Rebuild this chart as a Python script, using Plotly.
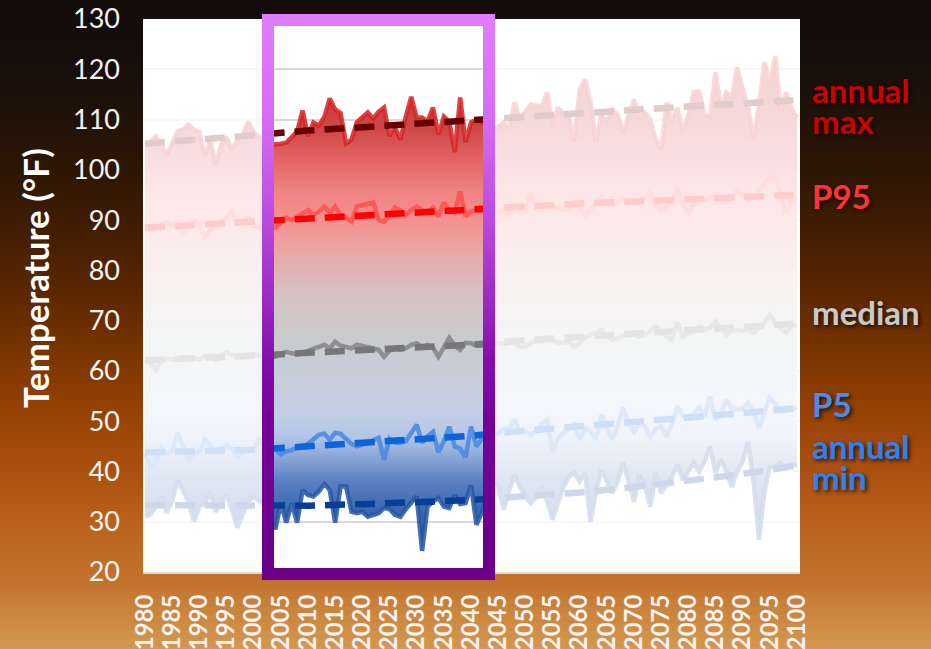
import plotly.graph_objects as go

# ---------------- data ----------------
YEARS = list(range(1980, 2101))

ANNUAL_MAX = [
    105.0, 105.5, 106.6, 105.0, 103.0, 105.5, 107.6, 108.0, 109.0, 108.0,
    107.6, 102.7, 106.0, 101.0, 105.0, 106.5, 104.0, 106.0, 107.0, 109.6,
    107.5, 106.5, 106.0, 105.0, 105.0, 105.2, 105.4, 106.5, 107.6, 111.8,
    106.7, 109.4, 108.8, 110.5, 114.2, 112.0, 111.3, 105.2, 106.0, 109.5,
    110.5, 111.4, 110.2, 111.6, 112.4, 106.7, 108.5, 106.0, 110.6, 114.5,
    110.4, 110.4, 109.6, 112.4, 107.0, 110.6, 109.6, 103.5, 114.4, 105.5,
    109.4, 110.0, 109.5, 108.5, 107.6, 108.5, 109.4, 108.4, 113.4, 110.0,
    111.5, 113.0, 112.8, 112.6, 115.4, 109.0, 112.4, 111.2, 110.4, 105.7,
    116.0, 118.0, 113.4, 105.5, 111.0, 109.6, 112.0, 111.0, 107.4, 111.0,
    114.0, 110.4, 111.4, 110.0, 106.0, 104.0, 113.4, 109.4, 112.4, 107.4,
    111.0, 115.4, 115.6, 111.0, 110.6, 119.4, 112.4, 115.4, 114.4, 120.4,
    116.0, 112.6, 106.0, 113.0, 121.4, 117.4, 122.6, 111.6, 115.4, 112.0,
    110.4,
]
P95 = [
    88.5, 88.0, 88.5, 89.0, 89.5, 89.0, 88.5, 87.5, 89.0, 90.0,
    89.0, 86.7, 88.0, 88.7, 89.5, 90.5, 91.7, 89.5, 90.0, 90.7,
    89.0, 88.5, 89.0, 89.0, 88.5, 89.5, 90.5, 90.0, 90.7, 91.5,
    92.0, 91.0, 91.7, 92.7, 91.5, 92.7, 91.0, 90.5, 89.7, 92.7,
    93.0, 93.2, 93.5, 90.0, 89.7, 91.0, 92.5, 92.0, 91.0, 92.0,
    92.7, 92.0, 91.5, 92.5, 90.7, 93.5, 92.0, 91.5, 95.7, 90.7,
    91.7, 92.0, 91.8, 92.0, 91.5, 91.5, 92.0, 91.0, 93.5, 92.0,
    92.5, 95.5, 92.5, 92.8, 93.0, 92.5, 92.5, 92.0, 92.0, 93.5,
    92.5, 90.7, 92.0, 93.5, 94.7, 93.5, 93.0, 93.5, 94.5, 93.5,
    93.5, 94.0, 94.5, 95.5, 93.0, 92.0, 92.7, 93.5, 96.5, 93.0,
    91.5, 93.0, 94.0, 94.0, 94.5, 94.7, 94.0, 93.7, 94.5, 96.0,
    95.0, 94.0, 94.5, 96.0, 97.5, 98.5, 99.0, 95.0, 91.5, 94.0,
    94.5,
]
MEDIAN = [
    62.2, 61.5, 60.2, 62.0, 62.5, 62.3, 62.5, 62.8, 62.4, 62.6,
    62.3, 62.9, 63.0, 62.2, 63.0, 63.8, 63.2, 62.8, 63.0, 63.2,
    63.4, 63.0, 62.8, 62.8, 62.8, 63.4, 63.8, 63.5, 63.3, 63.6,
    64.0, 64.2, 64.8, 65.2, 64.5, 65.8, 65.0, 64.8, 64.5, 65.2,
    65.0, 64.8, 64.6, 64.2, 62.8, 64.0, 64.5, 64.2, 64.5, 65.2,
    65.5, 64.8, 65.2, 64.6, 62.8, 64.5, 66.6, 65.0, 64.2, 65.6,
    65.5, 65.0, 65.0, 65.3, 65.2, 65.5, 65.3, 65.8, 65.5, 64.8,
    64.8, 65.5, 66.0, 65.8, 66.6, 66.2, 65.6, 65.6, 65.8, 64.8,
    65.5, 66.6, 67.2, 67.5, 68.2, 67.0, 66.2, 66.5, 67.0, 67.6,
    67.2, 66.8, 67.2, 68.0, 68.8, 67.8, 66.8, 66.2, 69.6, 66.8,
    67.5, 68.0, 68.8, 68.2, 68.5, 69.8, 68.5, 67.2, 68.0, 68.2,
    68.0, 68.2, 67.6, 68.5, 69.5, 71.2, 69.5, 68.5, 67.6, 68.8,
    69.2,
]
P5 = [
    43.7, 40.9, 42.0, 44.7, 43.5, 44.0, 47.7, 45.0, 42.3, 43.5,
    44.0, 46.3, 45.0, 44.0, 43.7, 45.3, 44.5, 42.9, 43.5, 44.3,
    44.5, 46.3, 45.0, 44.5, 44.5, 43.4, 44.0, 44.2, 44.8, 45.0,
    45.5, 46.3, 47.3, 47.5, 46.3, 47.7, 47.5, 46.5, 45.5, 45.0,
    45.3, 45.7, 46.2, 46.7, 42.3, 46.5, 45.7, 45.7, 46.0, 47.5,
    49.3, 45.7, 47.0, 47.9, 43.8, 46.0, 48.9, 45.0, 44.5, 42.8,
    48.9, 45.0, 46.5, 47.0, 47.7, 47.5, 48.5, 48.5, 50.3, 47.9,
    48.0, 47.3, 48.0, 49.5, 50.3, 44.0, 46.5, 47.7, 48.5, 49.3,
    46.3, 48.5, 48.0, 46.3, 51.3, 48.5, 46.3, 49.0, 52.7, 49.5,
    47.9, 49.7, 49.0, 46.9, 48.5, 49.0, 46.9, 49.5, 52.9, 51.0,
    50.9, 51.5, 52.7, 51.0, 54.9, 50.3, 51.5, 54.3, 52.5, 52.3,
    52.5, 53.7, 51.7, 48.7, 51.5, 54.7, 53.5, 51.9, 52.0, 52.5,
    52.7,
]
ANNUAL_MIN = [
    31.0, 31.4, 33.0, 35.0, 31.8, 34.0, 38.3, 36.0, 34.0, 30.0,
    33.0, 33.5, 35.9, 32.0, 33.5, 35.3, 32.4, 28.8, 31.5, 34.0,
    35.0, 34.0, 33.5, 31.0, 28.5, 33.7, 29.8, 33.7, 29.8, 36.3,
    35.3, 35.0, 36.0, 37.5, 36.3, 29.8, 37.0, 37.0, 32.0, 31.7,
    32.0, 31.0, 31.4, 31.7, 32.7, 32.5, 31.4, 31.0, 32.5, 33.7,
    35.0, 24.2, 33.0, 34.0, 34.7, 33.0, 32.7, 35.3, 33.5, 33.7,
    37.3, 29.4, 31.8, 35.0, 38.0, 37.0, 32.4, 36.0, 39.3, 36.9,
    35.0, 33.7, 35.0, 36.9, 34.0, 30.4, 34.0, 36.9, 38.9, 39.7,
    38.0, 39.7, 30.0, 36.0, 40.3, 38.0, 35.7, 38.0, 41.7, 38.0,
    34.0, 39.3, 37.0, 33.0, 39.7, 35.7, 37.5, 39.0, 41.3, 38.3,
    40.0, 41.7, 40.0, 42.0, 44.9, 39.7, 42.3, 40.0, 36.9, 40.0,
    42.0, 45.9, 38.0, 26.4, 36.0, 40.9, 41.0, 41.7, 40.7, 41.0,
    41.3,
]

TREND_YEARS = [1980, 1990, 2000, 2010, 2020, 2030, 2040, 2050, 2060, 2070, 2080, 2090, 2100]
TREND_MAX = [105.2, 106.2, 106.9, 107.8, 108.5, 109.2, 109.8, 110.7, 111.5, 112.0, 112.6, 113.2, 113.9]
TREND_P95 = [88.5, 89.1, 89.6, 90.4, 91.1, 91.6, 92.0, 92.9, 93.3, 93.7, 94.1, 94.6, 95.0]
TREND_MEDIAN = [62.1, 62.4, 63.0, 63.6, 64.1, 64.6, 65.2, 66.1, 66.7, 67.3, 68.1, 68.7, 69.4]
TREND_P5 = [43.8, 44.0, 44.3, 45.0, 45.6, 46.3, 47.1, 48.1, 48.9, 49.8, 50.8, 51.6, 52.6]
TREND_MIN = [33.3, 33.3, 33.1, 33.2, 33.5, 33.8, 34.3, 35.1, 35.8, 36.9, 38.2, 39.5, 41.2]

SERIES_LABELS = ["annual max", "P95", "median", "P5", "annual min"]
Y_TICKS = list(range(20, 131, 10))
X_TICKS = list(range(1980, 2101, 5))
X_TICK_TEXT = [str(y) for y in X_TICKS]

# ---------------- geometry / style ----------------
W, H = 931, 649
PL, PR, PT, PB = 143, 800, 19, 572


def pxx(p):
    return (p - PL) / (PR - PL)


def pxy(p):
    return (PB - p) / (PB - PT)


def hex2rgb(h):
    h = h.lstrip('#')
    return tuple(int(h[i:i + 2], 16) for i in (0, 2, 4))


def interp(stops, v):
    if v <= stops[0][0]:
        return 'rgb(%d,%d,%d)' % hex2rgb(stops[0][1])
    for (a, ca), (b, cb) in zip(stops, stops[1:]):
        if a <= v <= b:
            t = (v - a) / (b - a)
            c1, c2 = hex2rgb(ca), hex2rgb(cb)
            return 'rgb(%d,%d,%d)' % tuple(round(c1[i] + (c2[i] - c1[i]) * t) for i in range(3))
    return 'rgb(%d,%d,%d)' % hex2rgb(stops[-1][1])


FONT = "Lato, 'Open Sans', sans-serif"

fig = go.Figure()

# gradient fill between annual min and annual max
G0, G1 = 20, 120
fill_stops = [
    (20, '#2a56a2'), (32, '#3a66b0'), (38, '#5a80c2'), (43, '#8ca8d8'),
    (47, '#b4c6e6'), (52, '#c4d0e6'), (60, '#c8cdd8'), (68, '#cacacc'),
    (76, '#d8c0c0'), (83, '#e8a9a9'), (90, '#f59090'), (96, '#f08282'),
    (102, '#e26464'), (108, '#cf4848'), (120, '#c03434'),
]
colorscale = [[(v - G0) / (G1 - G0), c] for v, c in fill_stops]

fig.add_trace(go.Scatter(x=YEARS, y=ANNUAL_MIN, mode='lines', line=dict(width=0),
                         showlegend=False, hoverinfo='skip'))
fig.add_trace(go.Scatter(x=YEARS, y=ANNUAL_MAX, mode='lines', line=dict(width=0),
                         fill='tonexty',
                         fillgradient=dict(type='vertical', colorscale=colorscale, start=G0, stop=G1),
                         showlegend=False, hoverinfo='skip'))

series = [ANNUAL_MAX, P95, MEDIAN, P5, ANNUAL_MIN]
trends = [TREND_MAX, TREND_P95, TREND_MEDIAN, TREND_P5, TREND_MIN]
line_colors = ['rgba(214,36,36,0.85)', 'rgba(255,80,80,0.85)', 'rgba(128,128,128,0.8)',
               'rgba(70,135,225,0.85)', 'rgba(38,86,165,0.85)']
trend_colors = ['#640000', '#ff0000', '#777777', '#0a64dc', '#0a3e96']

for name, s, col in zip(SERIES_LABELS, series, line_colors):
    fig.add_trace(go.Scatter(x=YEARS, y=s, mode='lines', name=name,
                             line=dict(color=col, width=4.5), showlegend=False, hoverinfo='skip'))
for name, t, col in zip(SERIES_LABELS, trends, trend_colors):
    fig.add_trace(go.Scatter(x=TREND_YEARS, y=t, mode='lines', name=name + ' trend',
                             line=dict(color=col, width=6.5, dash='20px,10px'),
                             showlegend=False, hoverinfo='skip'))

shapes = []
# background gradient bands
bg_stops = [
    (0, '#120c0b'), (60, '#160e0a'), (120, '#211207'), (180, '#301704'),
    (240, '#451e02'), (300, '#5f2800'), (340, '#733100'), (400, '#903f03'),
    (460, '#a84d0c'), (520, '#b8601c'), (580, '#c2722c'), (620, '#cc8840'),
    (649, '#d49850'),
]
step = 8
y = 0
while y < H:
    c = interp(bg_stops, y + step / 2)
    shapes.append(dict(type='rect', xref='paper', yref='paper', layer='below',
                       x0=pxx(-5), x1=pxx(W + 5), y0=pxy(min(y + step, H) + 1), y1=pxy(y - 1),
                       fillcolor=c, line=dict(width=0)))
    y += step
# white plot area on top of the bands
shapes.append(dict(type='rect', xref='paper', yref='paper', layer='below',
                   x0=0, x1=1, y0=0, y1=1, fillcolor='#ffffff', line=dict(width=0)))

# white veil outside the highlighted window
FL_O, FL_I, FR_I, FR_O = 262, 274, 483, 495
FT_O, FT_I, FB_I, FB_O = 14, 26, 568, 580
for x0, x1 in [(PL, FL_O), (FR_O, PR)]:
    shapes.append(dict(type='rect', xref='paper', yref='paper', layer='above',
                       x0=pxx(x0), x1=pxx(x1), y0=0, y1=1,
                       fillcolor='rgba(255,255,255,0.8)', line=dict(width=0)))

# gradient frame
frame_stops = [(14, '#e27dff'), (120, '#d66cf5'), (220, '#bb4ade'), (300, '#9c2ac3'),
               (360, '#860fa9'), (420, '#74029a'), (580, '#6a0088')]
fstep = 6
yy = FT_I
while yy < FB_I:
    y2 = min(yy + fstep, FB_I)
    c = interp(frame_stops, (yy + y2) / 2)
    for x0, x1 in [(FL_O, FL_I), (FR_I, FR_O)]:
        shapes.append(dict(type='rect', xref='paper', yref='paper', layer='above',
                           x0=pxx(x0), x1=pxx(x1), y0=pxy(y2 + 0.5), y1=pxy(yy - 0.5),
                           fillcolor=c, line=dict(width=0)))
    yy = y2
shapes.append(dict(type='rect', xref='paper', yref='paper', layer='above',
                   x0=pxx(FL_O), x1=pxx(FR_O), y0=pxy(FT_I), y1=pxy(FT_O),
                   fillcolor='#e07cfd', line=dict(width=0)))
shapes.append(dict(type='rect', xref='paper', yref='paper', layer='above',
                   x0=pxx(FL_O), x1=pxx(FR_O), y0=pxy(FB_O), y1=pxy(FB_I),
                   fillcolor='#6a0088', line=dict(width=0)))

# annotations
shadow = '2px 2px 4px rgba(0,0,0,0.75)'
label_specs = [
    ('annual', 90, '#cc0000'), ('max', 121, '#cc0000'),
    ('P95', 196, '#ff3535'), ('median', 312, '#c9c9c9'),
    ('P5', 404, '#4b8de8'), ('annual', 446, '#2f80f0'), ('min', 477, '#2f80f0'),
]
annotations = []
for txt, py, col in label_specs:
    annotations.append(dict(text=txt, xref='paper', yref='paper', x=pxx(810), y=pxy(py),
                            xanchor='left', yanchor='middle', showarrow=False,
                            font=dict(family=FONT, size=33, color=col, weight='bold', shadow=shadow)))
annotations.append(dict(text='Temperature (°F)', xref='paper', yref='paper',
                        x=pxx(35), y=pxy(278), xanchor='center', yanchor='middle',
                        textangle=-90, showarrow=False,
                        font=dict(family=FONT, size=35, color='#ffffff', weight='bold')))

fig.update_layout(
    width=W, height=H, autosize=False,
    margin=dict(l=PL, r=W - PR, t=PT, b=H - PB, autoexpand=False),
    paper_bgcolor='#120c0b', plot_bgcolor='#ffffff',
    showlegend=False,
    shapes=shapes, annotations=annotations,
    xaxis=dict(range=[1979.63, 2100.55], tickmode='array', tickvals=X_TICKS, ticktext=X_TICK_TEXT,
               tickangle=-90, showgrid=False, zeroline=False,
               showline=True, linecolor='#d9d9d9', linewidth=2, ticks='',
               ticklabelstandoff=11,
               tickfont=dict(family=FONT, size=24, color='#f2f2f2', weight='bold')),
    yaxis=dict(range=[20, 130], tickmode='array', tickvals=Y_TICKS, showgrid=True,
               gridcolor='#d9d9d9', gridwidth=1.5, zeroline=False, showline=False, ticks='',
               ticklabelstandoff=22,
               tickfont=dict(family=FONT, size=27, color='#f2f2f2')),
)

fig.write_html("out.html", config={'displayModeBar': False},
               post_script="document.body.style.margin='0';document.body.style.overflow='hidden';")
